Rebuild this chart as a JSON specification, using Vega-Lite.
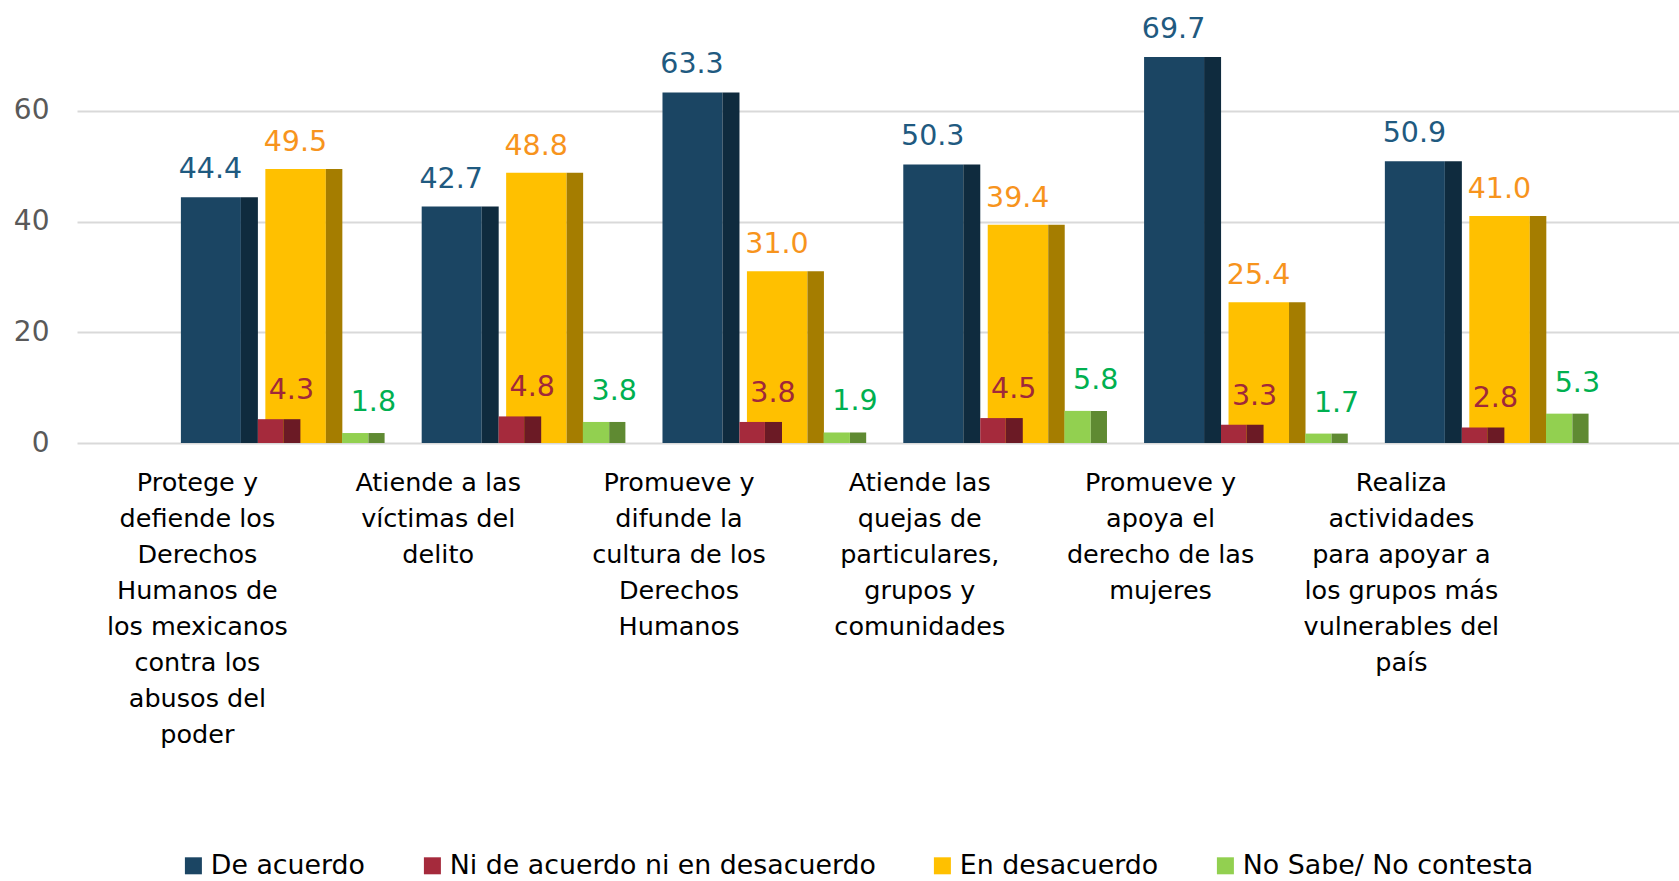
{
  "$schema": "https://vega.github.io/schema/vega-lite/v6.json",
  "autosize": "none",
  "width": 1602,
  "height": 443,
  "padding": {"left": 77, "top": 0, "right": 0, "bottom": 438},
  "background": "white",
  "config": {
    "font": "DejaVu Sans",
    "view": {"stroke": null}
  },
  "data": {
    "values": [
      {"categoria": "Protege y|defiende los|Derechos|Humanos de|los mexicanos|contra los|abusos del|poder", "serie": "De acuerdo", "valor": 44.4},
      {"categoria": "Protege y|defiende los|Derechos|Humanos de|los mexicanos|contra los|abusos del|poder", "serie": "Ni de acuerdo ni en desacuerdo", "valor": 4.3},
      {"categoria": "Protege y|defiende los|Derechos|Humanos de|los mexicanos|contra los|abusos del|poder", "serie": "En desacuerdo", "valor": 49.5},
      {"categoria": "Protege y|defiende los|Derechos|Humanos de|los mexicanos|contra los|abusos del|poder", "serie": "No Sabe/ No contesta", "valor": 1.8},
      {"categoria": "Atiende a las|víctimas del|delito", "serie": "De acuerdo", "valor": 42.7},
      {"categoria": "Atiende a las|víctimas del|delito", "serie": "Ni de acuerdo ni en desacuerdo", "valor": 4.8},
      {"categoria": "Atiende a las|víctimas del|delito", "serie": "En desacuerdo", "valor": 48.8},
      {"categoria": "Atiende a las|víctimas del|delito", "serie": "No Sabe/ No contesta", "valor": 3.8},
      {"categoria": "Promueve y|difunde la|cultura de los|Derechos|Humanos", "serie": "De acuerdo", "valor": 63.3},
      {"categoria": "Promueve y|difunde la|cultura de los|Derechos|Humanos", "serie": "Ni de acuerdo ni en desacuerdo", "valor": 3.8},
      {"categoria": "Promueve y|difunde la|cultura de los|Derechos|Humanos", "serie": "En desacuerdo", "valor": 31.0},
      {"categoria": "Promueve y|difunde la|cultura de los|Derechos|Humanos", "serie": "No Sabe/ No contesta", "valor": 1.9},
      {"categoria": "Atiende las|quejas de|particulares,|grupos y|comunidades", "serie": "De acuerdo", "valor": 50.3},
      {"categoria": "Atiende las|quejas de|particulares,|grupos y|comunidades", "serie": "Ni de acuerdo ni en desacuerdo", "valor": 4.5},
      {"categoria": "Atiende las|quejas de|particulares,|grupos y|comunidades", "serie": "En desacuerdo", "valor": 39.4},
      {"categoria": "Atiende las|quejas de|particulares,|grupos y|comunidades", "serie": "No Sabe/ No contesta", "valor": 5.8},
      {"categoria": "Promueve y|apoya el|derecho de las|mujeres", "serie": "De acuerdo", "valor": 69.7},
      {"categoria": "Promueve y|apoya el|derecho de las|mujeres", "serie": "Ni de acuerdo ni en desacuerdo", "valor": 3.3},
      {"categoria": "Promueve y|apoya el|derecho de las|mujeres", "serie": "En desacuerdo", "valor": 25.4},
      {"categoria": "Promueve y|apoya el|derecho de las|mujeres", "serie": "No Sabe/ No contesta", "valor": 1.7},
      {"categoria": "Realiza|actividades|para apoyar a|los grupos más|vulnerables del|país", "serie": "De acuerdo", "valor": 50.9},
      {"categoria": "Realiza|actividades|para apoyar a|los grupos más|vulnerables del|país", "serie": "Ni de acuerdo ni en desacuerdo", "valor": 2.8},
      {"categoria": "Realiza|actividades|para apoyar a|los grupos más|vulnerables del|país", "serie": "En desacuerdo", "valor": 41.0},
      {"categoria": "Realiza|actividades|para apoyar a|los grupos más|vulnerables del|país", "serie": "No Sabe/ No contesta", "valor": 5.3}
    ]
  },
  "encoding": {
    "x": {
      "field": "categoria",
      "type": "nominal",
      "sort": null,
      "scale": {"paddingInner": 0, "paddingOuter": 0.3265, "align": 0},
      "axis": {
        "title": null,
        "labelAngle": 0,
        "labelExpr": "split(datum.label, '|')",
        "labelFontSize": 25.5,
        "labelLineHeight": 36,
        "labelColor": "#000000",
        "labelPadding": 27,
        "labelLimit": 0,
        "labelOverlap": false,
        "ticks": false,
        "domain": false,
        "grid": false
      }
    },
    "y": {
      "field": "valor",
      "type": "quantitative",
      "scale": {"domain": [0, 80], "nice": false},
      "axis": {
        "title": null,
        "values": [0, 20, 40, 60],
        "labelFontSize": 28,
        "labelColor": "#595959",
        "labelPadding": 28,
        "ticks": false,
        "domain": false,
        "grid": true,
        "gridColor": "#D9D9D9",
        "gridWidth": 2
      }
    }
  },
  "layer": [
    {
      "transform": [{"filter": "datum.serie === 'De acuerdo'"}],
      "mark": {"type": "bar", "width": 60, "xOffset": 13.5},
      "encoding": {
        "color": {
          "field": "serie",
          "type": "nominal",
          "scale": {
            "domain": ["De acuerdo", "Ni de acuerdo ni en desacuerdo", "En desacuerdo", "No Sabe/ No contesta"],
            "range": ["#1B4563", "#A52A3C", "#FFC000", "#92D050"]
          },
          "legend": {
            "title": null,
            "orient": "none",
            "direction": "horizontal",
            "legendX": 103,
            "legendY": 852,
            "symbolType": "square",
            "symbolSize": 289,
            "symbolStrokeWidth": 0,
            "labelFontSize": 26.8,
            "labelColor": "#000000",
            "labelOffset": 4,
            "columnPadding": 53,
            "labelLimit": 0
          }
        }
      }
    },
    {
      "transform": [{"filter": "datum.serie === 'De acuerdo'"}],
      "mark": {"type": "bar", "width": 17, "xOffset": 52, "color": "#0F2B3E"}
    },
    {
      "transform": [{"filter": "datum.serie === 'En desacuerdo'"}],
      "mark": {"type": "bar", "width": 60.5, "xOffset": 98.2},
      "encoding": {"color": {"field": "serie", "type": "nominal"}}
    },
    {
      "transform": [{"filter": "datum.serie === 'En desacuerdo'"}],
      "mark": {"type": "bar", "width": 16.5, "xOffset": 136.7, "color": "#A57D00"}
    },
    {
      "transform": [{"filter": "datum.serie === 'Ni de acuerdo ni en desacuerdo'"}],
      "mark": {"type": "bar", "width": 25.5, "xOffset": 73.2},
      "encoding": {"color": {"field": "serie", "type": "nominal"}}
    },
    {
      "transform": [{"filter": "datum.serie === 'Ni de acuerdo ni en desacuerdo'"}],
      "mark": {"type": "bar", "width": 17, "xOffset": 94.5, "color": "#6B1A25"}
    },
    {
      "transform": [{"filter": "datum.serie === 'No Sabe/ No contesta'"}],
      "mark": {"type": "bar", "width": 26.3, "xOffset": 157.8},
      "encoding": {"color": {"field": "serie", "type": "nominal"}}
    },
    {
      "transform": [{"filter": "datum.serie === 'No Sabe/ No contesta'"}],
      "mark": {"type": "bar", "width": 16.2, "xOffset": 179.1, "color": "#5F8A32"}
    },
    {
      "transform": [{"filter": "datum.serie === 'De acuerdo'"}],
      "mark": {"type": "text", "xOffset": 13, "dy": -19, "baseline": "alphabetic", "fontSize": 28.5, "color": "#1F5A80"},
      "encoding": {"text": {"field": "valor", "type": "quantitative", "format": ".1f"}}
    },
    {
      "transform": [{"filter": "datum.serie === 'En desacuerdo'"}],
      "mark": {"type": "text", "xOffset": 98, "dy": -18, "baseline": "alphabetic", "fontSize": 28.5, "color": "#F7941D"},
      "encoding": {"text": {"field": "valor", "type": "quantitative", "format": ".1f"}}
    },
    {
      "transform": [{"filter": "datum.serie === 'Ni de acuerdo ni en desacuerdo'"}],
      "mark": {"type": "text", "xOffset": 94, "dy": -20, "baseline": "alphabetic", "fontSize": 28.5, "color": "#A0283A"},
      "encoding": {"text": {"field": "valor", "type": "quantitative", "format": ".1f"}}
    },
    {
      "transform": [{"filter": "datum.serie === 'No Sabe/ No contesta'"}],
      "mark": {"type": "text", "xOffset": 176, "dy": -22, "baseline": "alphabetic", "fontSize": 28.5, "color": "#00B050"},
      "encoding": {"text": {"field": "valor", "type": "quantitative", "format": ".1f"}}
    }
  ]
}
